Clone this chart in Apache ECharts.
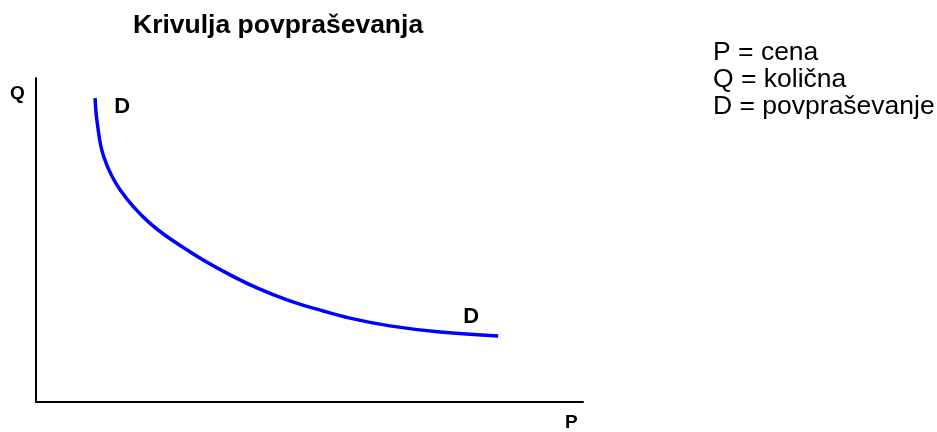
<!DOCTYPE html>
<html>
<head>
<meta charset="utf-8">
<script src="https://cdn.jsdelivr.net/npm/echarts@6/dist/echarts.min.js"></script>
<style>
html,body{margin:0;padding:0;background:#fff;}
#chart{width:937px;height:432px;}
</style>
</head>
<body>
<div id="chart"></div>
<script>
// Price (P) on x-axis, quantity (Q) on y-axis, 0-100 scale
const priceValues = [10.8, 11.2, 12.4, 15.4, 20.8, 28.2, 34.2, 40.4, 46.4, 52.5, 57.4, 64.7, 73.9, 84.5];
const quantityValues = [93.8, 86.1, 75.6, 65.4, 55.2, 46.3, 40.4, 35.2, 31.2, 28.1, 25.9, 23.5, 21.6, 20.4];
const titleText = 'Krivulja povpraševanja';
const legendLines = ['P = cena', 'Q = količna', 'D = povpraševanje'];
const curveLabel = 'D';
const xAxisName = 'P';
const yAxisName = 'Q';

const chart = echarts.init(document.getElementById('chart'), null, {renderer: 'canvas'});
const FONT = '"Liberation Sans", Arial, sans-serif';

const data = priceValues.map((x, i) => [x, quantityValues[i]]);

chart.setOption({
  animation: false,
  backgroundColor: '#ffffff',
  title: {
    text: titleText,
    left: 128,
    top: 7,
    textStyle: {fontFamily: FONT, fontSize: 26.5, fontWeight: 'bold', color: '#000'}
  },
  grid: {left: 36, top: 78, width: 547, height: 324},
  xAxis: {
    type: 'value', min: 0, max: 100,
    axisLine: {show: true, lineStyle: {color: '#000', width: 2}},
    axisTick: {show: false}, axisLabel: {show: false}, splitLine: {show: false}
  },
  yAxis: {
    type: 'value', min: 0, max: 100,
    axisLine: {show: true, lineStyle: {color: '#000', width: 2}},
    axisTick: {show: false}, axisLabel: {show: false}, splitLine: {show: false}
  },
  series: [{
    type: 'line',
    data: data,
    smooth: 0.4,
    showSymbol: false,
    lineStyle: {color: '#0000ff', width: 3.5},
    markPoint: {
      symbol: 'circle', symbolSize: 0,
      label: {show: true, formatter: curveLabel, fontFamily: FONT, fontSize: 22, fontWeight: 'bold', color: '#000'},
      data: [
        {coord: [priceValues[0], quantityValues[0]], label: {offset: [27, 9]}},
        {coord: [priceValues[priceValues.length - 1], quantityValues[quantityValues.length - 1]], label: {offset: [-27, -19]}}
      ]
    }
  }],
  graphic: [
    {type: 'text', left: 10, top: 84, style: {text: yAxisName, font: 'bold 19px ' + FONT, fill: '#000'}},
    {type: 'text', left: 565, top: 413, style: {text: xAxisName, font: 'bold 19px ' + FONT, fill: '#000'}},
    {type: 'text', left: 713, top: 39, style: {text: legendLines.join('\n'), font: '26.5px ' + FONT, lineHeight: 27, fill: '#000'}}
  ]
});
</script>
</body>
</html>
